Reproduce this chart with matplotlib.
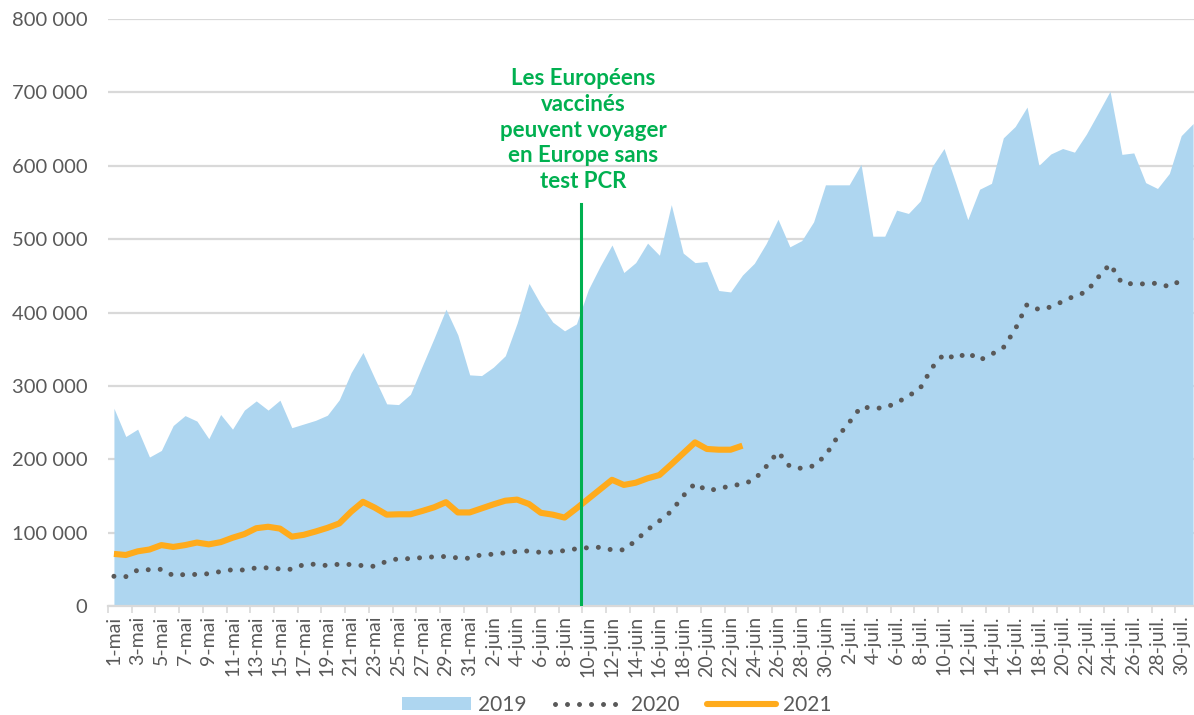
import matplotlib
matplotlib.use("Agg")
import matplotlib.pyplot as plt
from matplotlib.lines import Line2D
from matplotlib.patches import Patch
import numpy as np

plt.rcParams['font.family'] = ['Lato', 'DejaVu Sans']

# ---------------- data ----------------
months = [("mai", 31), ("juin", 30), ("juil.", 31)]
categories = [f"{d}-{m}" for m, n in months for d in range(1, n + 1)]

v2019 = [269500, 231000, 241000, 203000, 212000, 246000, 259500, 252000, 228000, 261000,
         241000, 267000, 279500, 267000, 280500, 243000, 248000, 253000, 260000, 281000,
         318000, 345500, 310000, 275500, 274500, 288500, 327000, 365000, 404500, 369500,
         315000, 314000, 325500, 341000, 385500, 439500, 411000, 387000, 375000, 384500,
         431000, 463000, 492000, 454500, 468000, 494500, 478000, 547000, 481000, 468000,
         469500, 430000, 428000, 451000, 467000, 494000, 527000, 489500, 498000, 523500,
         574000, 574000, 574000, 602000, 504000, 504000, 539500, 535000, 552000, 599000,
         623500, 576000, 526500, 568000, 576000, 638000, 653500, 680000, 600500, 616000,
         623500, 618500, 643000, 672000, 701500, 615500, 617500, 577000, 569000, 589500,
         641000, 657500]

v2020 = [40500, 40000, 49000, 49500, 50000, 41500, 43000, 43000, 44000, 47000,
         49500, 49000, 52000, 52000, 50500, 50000, 56500, 57000, 55000, 57000,
         56500, 55000, 54000, 61000, 64500, 64500, 66000, 67000, 67500, 65500,
         65000, 70000, 70500, 72500, 74500, 75000, 73000, 73500, 75500, 78000,
         79500, 80000, 76500, 76500, 89000, 104000, 116000, 129000, 150000, 167000,
         157500, 159500, 164000, 166000, 172000, 190000, 210000, 190000, 187500, 191000,
         205000, 230000, 250000, 271500, 269500, 270000, 277000, 286000, 297000, 325000,
         343500, 337000, 345500, 335000, 343000, 352000, 377000, 411000, 404000, 407500,
         415000, 422500, 428000, 448000, 466000, 440000, 439000, 439000, 440000, 435000,
         444000]

v2021 = [71000, 69500, 74500, 77000, 83000, 80500, 83000, 86500, 84000, 87000,
         93000, 98000, 106000, 108000, 105500, 94500, 97000, 101500, 106500, 112500,
         128500, 142000, 134000, 124500, 125000, 125000, 129500, 134500, 141500, 127500,
         127500, 133000, 138500, 143500, 145000, 139000, 127000, 124500, 120500, 133000,
         146000, 159000, 172000, 165000, 168000, 174000, 178500, 193000, 208000, 223000,
         214000, 213000, 213000, 218500]

series_names = ["2019", "2020", "2021"]
annotation = "Les Européens\nvaccinés\npeuvent voyager\nen Europe sans\ntest PCR"
event_index = 39.4          # between 9-juin and 10-juin
yticks = list(range(0, 800001, 100000))
ytick_labels = ["0" if v == 0 else f"{v // 1000} 000" for v in yticks]

# ---------------- style ----------------
C_AREA = "#AED6F0"
C_2020 = "#595959"
C_2021 = "#FFAB1C"
C_GREEN = "#00B050"
C_GRID = "#D9D9D9"
C_TEXT = "#595959"

fig = plt.figure(figsize=(11.94, 7.15), dpi=100)
ax = fig.add_axes([108 / 1194, 109 / 715, 1091 / 1194, 587 / 715])

x19 = np.arange(len(v2019))
x20 = np.arange(len(v2020))
x21 = np.arange(len(v2021))

ax.fill_between(x19, 0, v2019, color=C_AREA, lw=0, zorder=2)
ax.plot(x20, v2020, color=C_2020, lw=3.6, linestyle=(0, (0.001, 2.4)),
        dash_capstyle='round', zorder=3)
ax.plot(x21, v2021, color=C_2021, lw=4.4, solid_capstyle='butt',
        solid_joinstyle='round', zorder=4)

ax.axvline(event_index, ymin=0, ymax=548000 / 800000, color=C_GREEN, lw=2.2, zorder=5)
ax.text(39.55, 648700, annotation, ha='center', va='center', color=C_GREEN,
        fontsize=16, fontweight='bold', linespacing=1.27, zorder=6)

ax.set_xlim(-0.5, len(categories) - 0.5)
ax.set_ylim(0, 800000)

ax.set_yticks(yticks)
ax.set_yticklabels(ytick_labels)
ax.yaxis.grid(True, color=C_GRID, lw=1.6, zorder=0)
ax.set_axisbelow(True)
ax.tick_params(axis='y', length=0, pad=15, labelsize=14.5, labelcolor=C_TEXT)

ax.set_xticks(np.arange(0, len(categories), 2))
ax.set_xticklabels(categories[::2], rotation=90)
ax.set_xticks(np.arange(-0.5, len(categories), 2), minor=True)
ax.tick_params(axis='x', which='major', length=0, pad=7, labelsize=14, labelcolor=C_TEXT)
ax.tick_params(axis='x', which='minor', length=5, width=1.2, color=C_GRID)

for s in ['top', 'right', 'left']:
    ax.spines[s].set_visible(False)
ax.spines['bottom'].set_color(C_GRID)
ax.spines['bottom'].set_linewidth(1.6)

handles = [Patch(facecolor=C_AREA, edgecolor='none'),
           Line2D([0], [0], color=C_2020, lw=3.6, linestyle=(0, (0.001, 2.4)), dash_capstyle='round'),
           Line2D([0], [0], color=C_2021, lw=4.4, solid_capstyle='round')]
leg = fig.legend(handles, series_names, loc='center', bbox_to_anchor=(617 / 1194, 10 / 715),
                 ncol=3, frameon=False, fontsize=15, handlelength=3.3, handleheight=0.6,
                 handletextpad=0.35, columnspacing=1.35)
for t in leg.get_texts():
    t.set_color(C_TEXT)

fig.savefig("out.png", dpi=100)
